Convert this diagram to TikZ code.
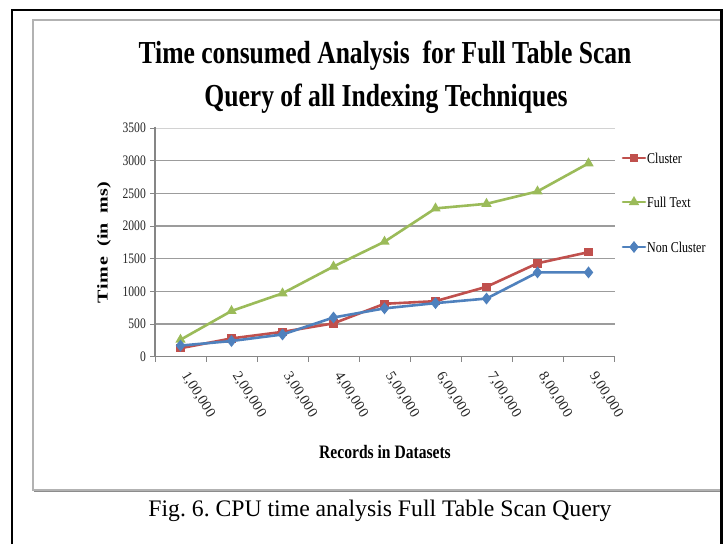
\documentclass[tikz,border=0pt]{standalone}
\usepackage{fontspec}
\setmainfont{Liberation Serif}
\usepackage{graphicx}
\usetikzlibrary{shapes.geometric,calc}
\definecolor{cred}{HTML}{C0504D}
\definecolor{cgreen}{HTML}{9BBB59}
\definecolor{cblue}{HTML}{4F81BD}
\definecolor{cgrid}{HTML}{9C9C9C}
\definecolor{caxis}{HTML}{868686}
\tikzset{
  ser/.style={line width=2.6pt, line join=round, line cap=round},
  mk/.style={inner sep=0pt, outer sep=0pt, draw=none},
  sqmark/.style={mk, rectangle, fill=cred, minimum size=8.5pt},
  trimark/.style={mk, regular polygon, regular polygon sides=3, fill=cgreen, minimum size=12pt},
  dmmark/.style={mk, diamond, fill=cblue, minimum width=9.5pt, minimum height=12pt},
  ticklab/.style={inner sep=0pt, font=\fontsize{14.5}{14.5}\selectfont, text=black!85},
  legtext/.style={inner sep=0pt, anchor=west, font=\fontsize{15}{15}\selectfont},
  gridline/.style={cgrid, line width=1.1pt},
}
\newcommand{\cx}[1]{\scalebox{0.8}[1]{#1}}
\frenchspacing
\begin{document}
\begin{tikzpicture}[x=1pt,y=-1pt]
\useasboundingbox (0,0) rectangle (725,544);
\fill[white] (0,0) rectangle (725,544);
% inner chart box
\draw[black!30, line width=1.6pt] (33,20) rectangle (721,490);
\draw[black!45, line width=1pt] (34,491) -- (721,491);
% outer frame
\draw[black, line width=2.6pt] (12,544) -- (12,10) -- (721.5,10) -- (721.5,544);
% title
\node[anchor=base, inner sep=0pt, font=\bfseries\fontsize{32}{32}\selectfont] (t1) at (385,63)
  {\scalebox{0.8}[1]{Time consumed Analysis\ \ for Full Table Scan}};
\node[anchor=base, inner sep=0pt, font=\bfseries\fontsize{32}{32}\selectfont] (t2) at (386,106)
  {\scalebox{0.8}[1]{Query of all Indexing Techniques}};
% grid lines and y labels
\foreach \v [count=\k from 0] in {0,500,1000,1500,2000,2500,3000,3500} {
  \pgfmathsetmacro{\yy}{356.7-0.06534*\v}
  \ifnum\k>0
    \ifnum\k<7
      \draw[gridline] (155,\yy) -- (615,\yy);
    \else
      \draw[cgrid!45, line width=1pt] (155,\yy) -- (615,\yy);
    \fi
  \fi
  \draw[caxis, line width=1pt] (150,\yy) -- (155,\yy);
  \node[ticklab, anchor=east] (yl\k) at (146,\yy) {\cx{\v}};
}
% axes
\draw[caxis, line width=1.2pt] (155,126.7) -- (155,356.7);
\draw[caxis, line width=1.2pt] (155,356.7) -- (615,356.7);
\foreach \i in {0,...,9} {
  \draw[caxis, line width=1pt] ({155+51*\i},356.7) -- ({155+51*\i},362);
}
% x labels
\foreach \lab [count=\i] in {1,2,3,4,5,6,7,8,9} {
  \node[ticklab, rotate=-58, anchor=west] (xl\i) at ({180.5+51*(\i-1)+4},373) {\lab,00,000};
}
% axis titles
\node[inner sep=0pt, rotate=90, font=\bfseries\fontsize{20}{20}\selectfont] (ytitle) at (104,243)
  {\scalebox{1}[0.75]{T\kern1pt i\kern1pt m\kern1pt e\ \ (in\ \ ms)}};
\node[anchor=base, inner sep=0pt, font=\bfseries\fontsize{19}{19}\selectfont] (xtitle) at (385,458)
  {\scalebox{0.82}[1]{Records in Datasets}};
% data coordinates
\foreach \v [count=\i] in {130,280,380,510,810,850,1070,1430,1600}
  \coordinate (r\i) at ({180.5+51*(\i-1)},{356.7-0.06534*\v});
\foreach \v [count=\i] in {260,700,970,1380,1760,2270,2340,2530,2960}
  \coordinate (g\i) at ({180.5+51*(\i-1)},{356.7-0.06534*\v});
\foreach \v [count=\i] in {170,240,340,600,740,820,890,1290,1290}
  \coordinate (b\i) at ({180.5+51*(\i-1)},{356.7-0.06534*\v});
% series: Cluster
\draw[ser, cred] (r1) \foreach \i in {2,...,9} { -- (r\i) };
\foreach \i in {1,...,9} \node[sqmark] (rm\i) at (r\i) {};
% series: Full Text
\draw[ser, cgreen] (g1) \foreach \i in {2,...,9} { -- (g\i) };
\foreach \i in {1,...,9} \node[trimark] (gm\i) at (g\i) {};
% series: Non Cluster
\draw[ser, cblue] (b1) \foreach \i in {2,...,9} { -- (b\i) };
\foreach \i in {1,...,9} \node[dmmark] (bm\i) at (b\i) {};
% legend
\coordinate (la1) at (623,158); \coordinate (lb1) at (645,158);
\coordinate (la2) at (623,202); \coordinate (lb2) at (645,202);
\coordinate (la3) at (623,247); \coordinate (lb3) at (645,247);
\draw[ser, cred] (la1) -- (lb1);
\node[sqmark] (lm1) at ($(la1)!0.5!(lb1)$) {};
\draw[ser, cgreen] (la2) -- (lb2);
\node[trimark] (lm2) at ($(la2)!0.5!(lb2)$) {};
\draw[ser, cblue] (la3) -- (lb3);
\node[dmmark] (lm3) at ($(la3)!0.5!(lb3)$) {};
\node[legtext] (lt1) at (647,158) {\cx{Cluster}};
\node[legtext] (lt2) at (647,202) {\cx{Full Text}};
\node[legtext] (lt3) at (647,247) {\cx{Non Cluster}};
% caption
\node[anchor=base, inner sep=0pt, font=\fontsize{23.7}{23.7}\selectfont] (cap) at (380,516)
  {Fig. 6. CPU time analysis Full Table Scan Query};
\end{tikzpicture}
\end{document}
